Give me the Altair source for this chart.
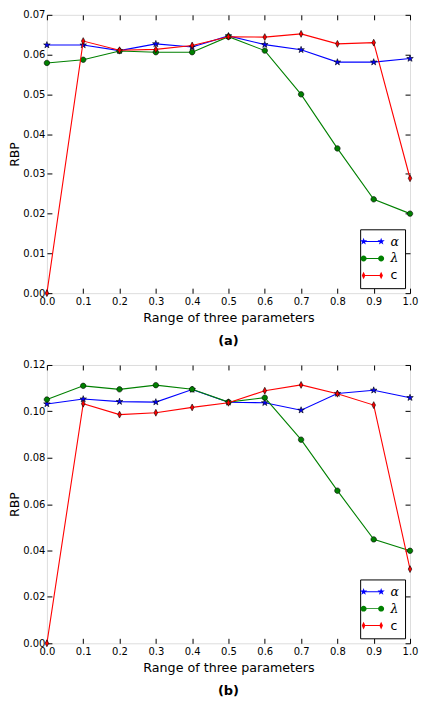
import math
import altair as alt
import pandas as pd

# ---------------- data ----------------
x_vals = [0.0, 0.1, 0.2, 0.3, 0.4, 0.5, 0.6, 0.7, 0.8, 0.9, 1.0]
series_names = ["α", "λ", "c"]
series_colors = ["#0000ff", "#008000", "#ff0000"]

a_alpha = [0.0624, 0.0624, 0.0610, 0.0627, 0.0619, 0.0647, 0.0625, 0.0612, 0.0581, 0.0581, 0.0590]
a_lambda = [0.0579, 0.0587, 0.0609, 0.0606, 0.0606, 0.0645, 0.0610, 0.0500, 0.0364, 0.0236, 0.0200]
a_c = [0.0000, 0.0634, 0.0611, 0.0613, 0.0623, 0.0645, 0.0644, 0.0652, 0.0627, 0.0630, 0.0289]

b_alpha = [0.1032, 0.1053, 0.1042, 0.1040, 0.1094, 0.1039, 0.1037, 0.1005, 0.1077, 0.1091, 0.1059]
b_lambda = [0.1051, 0.1110, 0.1095, 0.1113, 0.1095, 0.1040, 0.1059, 0.0878, 0.0658, 0.0448, 0.0399]
b_c = [0.0000, 0.1033, 0.0986, 0.0994, 0.1017, 0.1037, 0.1089, 0.1114, 0.1076, 0.1027, 0.0320]

a_yticks = [0.00, 0.01, 0.02, 0.03, 0.04, 0.05, 0.06, 0.07]
b_yticks = [0.00, 0.02, 0.04, 0.06, 0.08, 0.10, 0.12]

x_title = "Range of three parameters"
y_title = "RBP"
captions = ["(a)", "(b)"]

FONT = "DejaVu Sans"


# ---------------- marker shapes (unit square paths) ----------------
def star(cx, r_out, r_in):
    pts = []
    for i in range(10):
        ang = -math.pi / 2 + i * math.pi / 5
        r = r_out if i % 2 == 0 else r_in
        pts.append((cx + r * math.cos(ang), r * math.sin(ang)))
    return "M" + "L".join(f"{px:.3f},{py:.3f}" for px, py in pts) + "Z"


def circ(cx, r):
    return (f"M{cx - r:.3f},0A{r:.3f},{r:.3f} 0 1,1 {cx + r:.3f},0"
            f"A{r:.3f},{r:.3f} 0 1,1 {cx - r:.3f},0Z")


def diam(cx, hw, hh):
    return f"M{cx:.3f},{-hh:.3f}L{cx + hw:.3f},0L{cx:.3f},{hh:.3f}L{cx - hw:.3f},0Z"


def bar(x0, x1, h):
    return f"M{x0:.3f},{-h:.3f}L{x1:.3f},{-h:.3f}L{x1:.3f},{h:.3f}L{x0:.3f},{h:.3f}Z"


marker_paths = [star(0, 1.15, 0.45), circ(0, 1.0), diam(0, 0.6, 1.15)]
marker_sizes = [36, 30, 36]

LX = 2.2
legend_paths = [
    bar(-LX, LX, 0.12) + star(-LX, 0.95, 0.38) + star(LX, 0.95, 0.38),
    bar(-LX, LX, 0.12) + circ(-LX, 0.75) + circ(LX, 0.75),
    bar(-LX, LX, 0.12) + diam(-LX, 0.45, 0.95) + diam(LX, 0.45, 0.95),
]


def panel(vals_list, yticks, caption):
    rows = []
    for name, vals in zip(series_names, vals_list):
        for xv, yv in zip(x_vals, vals):
            rows.append({"x": xv, "rbp": yv, "series": name})
    df = pd.DataFrame(rows)

    xs = alt.Scale(domain=[x_vals[0], x_vals[-1]], nice=False, zero=False)
    ys = alt.Scale(domain=[yticks[0], yticks[-1]], nice=False, zero=False)

    common = dict(offset=-5, tickSize=5, domain=False, grid=False, minExtent=0,
                  tickColor="black", tickWidth=1, labelColor="black",
                  labelFont=FONT, labelFontSize=10, labelOverlap=False,
                  labelFlush=False, titleColor="black", titleFont=FONT,
                  titleFontWeight="normal")

    x_bottom = alt.Axis(orient="bottom", values=x_vals, format=".1f",
                        labelPadding=3, title=x_title, titleFontSize=12.7,
                        titlePadding=5, **common)
    y_left = alt.Axis(orient="left", values=yticks, format=".2f",
                      labelPadding=2, title=y_title, titleFontSize=12.5,
                      titlePadding=1, **common)
    x_top = alt.Axis(orient="top", values=x_vals, labels=False, title=None, **common)
    y_right = alt.Axis(orient="right", values=yticks, labels=False, title=None, **common)

    layers = []
    for i, name in enumerate(series_names):
        base = alt.Chart(df).transform_filter(alt.datum.series == name)
        line = base.mark_line(color=series_colors[i], strokeWidth=1.1).encode(
            x=alt.X("x:Q", scale=xs, axis=x_bottom if i == 0 else None),
            y=alt.Y("rbp:Q", scale=ys, axis=y_left if i == 0 else None),
        )
        pts = base.mark_point(shape=marker_paths[i], filled=True, fill=series_colors[i],
                              stroke="black", strokeWidth=0.6, opacity=1,
                              size=marker_sizes[i]).encode(
            x=alt.X("x:Q", scale=xs, axis=None),
            y=alt.Y("rbp:Q", scale=ys, axis=None),
        )
        layers += [line, pts]

    leg = alt.Legend(title=None, orient="bottom-right", offset=5, padding=6,
                     strokeColor="black", fillColor="white", cornerRadius=0,
                     symbolSize=64, symbolStrokeWidth=0, symbolOpacity=1,
                     labelFontSize=12.5, labelOffset=12, rowPadding=4,
                     labelColor="black",
                     labelFont=alt.ExprRef(expr="datum.label == 'c' ? 'DejaVu Sans' : 'DejaVu Serif'"),
                     labelFontStyle=alt.ExprRef(expr="datum.label == 'c' ? 'normal' : 'italic'"))

    legend_layer = alt.Chart(df).transform_filter("false").mark_point(
        filled=True, opacity=1, size=64).encode(
        x=alt.X("x:Q", scale=xs, axis=x_top),
        y=alt.Y("rbp:Q", scale=ys, axis=y_right),
        color=alt.Color("series:N", scale=alt.Scale(domain=series_names, range=series_colors), legend=leg),
        shape=alt.Shape("series:N", scale=alt.Scale(domain=series_names, range=legend_paths), legend=leg),
    )
    layers.append(legend_layer)

    return alt.layer(*layers).properties(
        width=364, height=279,
        title=alt.TitleParams(caption, orient="bottom", fontSize=13, fontWeight="bold",
                              font=FONT, color="black", anchor="middle", frame="group",
                              offset=11),
    )


chart = alt.vconcat(
    panel([a_alpha, a_lambda, a_c], a_yticks, captions[0]),
    panel([b_alpha, b_lambda, b_c], b_yticks, captions[1]),
    spacing=10,
).resolve_scale(color="independent", shape="independent").resolve_legend(
    color="independent", shape="independent"
).configure_view(stroke="black", strokeWidth=1).configure(
    font=FONT, background="white"
).properties(padding={"left": 0, "top": 0, "right": 0, "bottom": 0})

chart.save("out.html", embed_options={"renderer": "svg", "actions": False})
